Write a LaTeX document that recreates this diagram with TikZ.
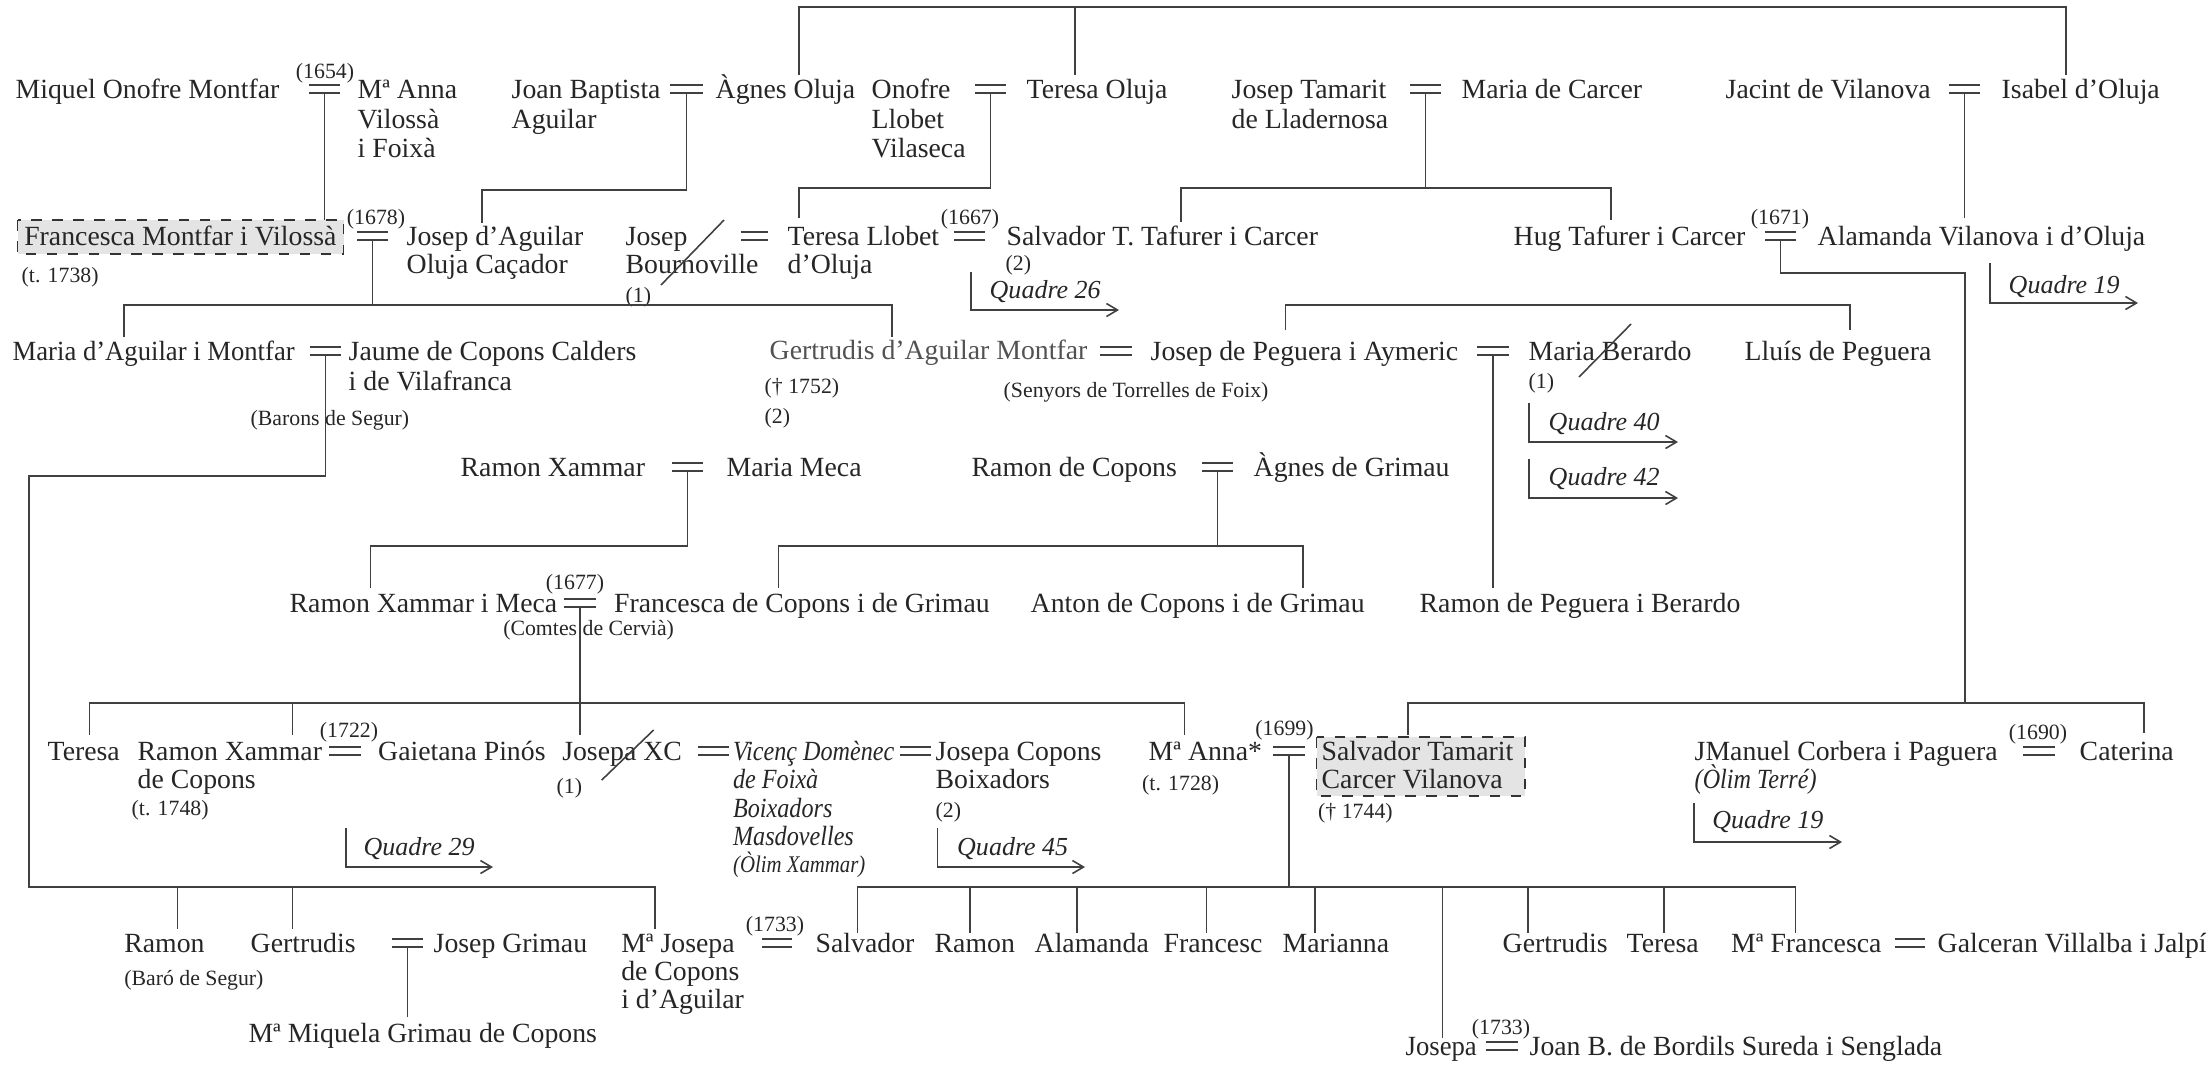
\documentclass[tikz,border=0pt]{standalone}
\usepackage{fontspec}
\usepackage{graphicx}
\setmainfont{Liberation Serif}
\usetikzlibrary{arrows.meta}
\definecolor{txt}{HTML}{262626}
\definecolor{lnc}{HTML}{404040}
\definecolor{boxfill}{HTML}{E4E4E4}
\newcommand\cond[1]{\scalebox{0.87}[1]{#1}}
\newcommand\slim[1]{\scalebox{0.96}[1]{#1}}
\tikzset{
  nm/.style={font=\fontsize{7.9}{8.3}\selectfont, anchor=base west, inner sep=0pt, text=txt},
  nmi/.style={nm, font=\fontsize{7.9}{8.3}\selectfont\itshape},
  sm/.style={font=\fontsize{6.2}{7}\selectfont, anchor=base west, inner sep=0pt, text=txt},
  yr/.style={font=\fontsize{6.2}{7}\selectfont, anchor=base, inner sep=0pt, text=txt},
  qd/.style={font=\fontsize{7.4}{8}\selectfont\itshape, anchor=base west, inner sep=0pt, text=txt},
  ln/.style={draw=lnc, line width=0.45pt},
  arr/.style={ln, -{Straight Barb[length=1.1mm,width=1.3mm]}},
  hbox/.style={draw=black!80, dashed, fill=boxfill, line width=0.45pt},
}
\newcommand\mar[4]{%
  \draw[ln] (#2,#4-13) -- (#3,#4-13) (#2,#4-5) -- (#3,#4-5);
  \coordinate (#1) at ({(#2+#3)/2},#4-5);}
\begin{document}
\begin{tikzpicture}[x=0.1mm,y=-0.1mm]
\useasboundingbox (0,0) rectangle (2210,1066);
% ---------- top siblings line
\draw[ln] (799,75) |- (2066,7) -- (2066,75);
\draw[ln] (1075,7) -- (1075,75);
% ---------- row 1
\node[nm] (miq) at (15,98) {Miquel Onofre Montfar};
\mar{m1}{309}{340}{98}
\node[yr] (y1654) at (325,78) {(1654)};
\node[nm] (anna1) at (357,98) {Mª Anna};
\node[nm] (anna2) at (357,128) {Vilossà};
\node[nm] (anna3) at (357,157) {i Foixà};
\node[nm] (joan1) at (511,98) {Joan Baptista};
\node[nm] (joan2) at (511,128) {Aguilar};
\mar{m2}{670}{703}{98}
\node[nm] (agnes) at (715,98) {Àgnes Oluja};
\node[nm] (onof1) at (871,98) {Onofre};
\node[nm] (onof2) at (871,128) {Llobet};
\node[nm] (onof3) at (871,157) {Vilaseca};
\mar{m3}{975}{1006}{98}
\node[nm] (terO) at (1026,98) {Teresa Oluja};
\node[nm] (jt1) at (1231,98) {Josep Tamarit};
\node[nm] (jt2) at (1231,128) {de Lladernosa};
\mar{m4}{1410}{1441}{98}
\node[nm] (mcar) at (1461,98) {Maria de Carcer};
\node[nm] (jac) at (1725,98) {Jacint de Vilanova};
\mar{m5}{1949}{1980}{98}
\node[nm] (isa) at (2001,98) {Isabel d’Oluja};
% connectors row1 -> row2
\draw[ln] (m1) -- ++(0,127);
\draw[ln] (m2) |- (482,190) -- (482,223);
\draw[ln] (m3) |- (799,188) -- (799,218);
\draw[ln] (m4) -- ++(0,95);
\draw[ln] (1181,222) |- (1611,188) -- (1611,220);
\draw[ln] (m5) -- ++(0,125);
% ---------- row 2
\draw[hbox] (17.5,220) rectangle (343.5,254);
\node[nm] (fmv) at (23.6,245) {Francesca Montfar i Vilossà};
\node[sm] (t1738) at (21,282) {(t. 1738)};
\node[yr] (y1678) at (376,224) {(1678)};
\mar{m6}{357}{388}{245}
\node[nm] (jda1) at (406,245) {Josep d’Aguilar};
\node[nm] (jda2) at (406,273) {Oluja Caçador};
\node[nm] (jb1) at (625,245) {Josep};
\node[nm] (jb2) at (625,273) {Bournoville};
\node[sm] (jb3) at (625,302) {(1)};
\draw[ln] (661,285) -- (724,220);
\mar{m7}{741}{768}{245}
\node[nm] (tl1) at (787,245) {Teresa Llobet};
\node[nm] (tl2) at (787,273) {d’Oluja};
\node[yr] (y1667) at (970,224) {(1667)};
\mar{m8}{954}{985}{245}
\node[nm] (stt) at (1006,245) {Salvador T. Tafurer i Carcer};
\node[sm] (stt2) at (1005,270) {(2)};
\draw[arr] (971,272) |- (1119,310);
\node[qd] (q26) at (989,298) {Quadre 26};
\node[nm] (hug) at (1513,245) {Hug Tafurer i Carcer};
\node[yr] (y1671) at (1780,224) {(1671)};
\mar{m9}{1765}{1796}{245}
\node[nm] (alam) at (1817,245) {Alamanda Vilanova i d’Oluja};
\draw[arr] (1990,263) |- (2138,303);
\node[qd] (q19a) at (2008,293) {Quadre 19};
% connectors row2
\draw[ln] (m6) -- ++(0,65);
\draw[ln] (124,337) |- (892,305) -- (892,337);
\draw[ln] (1285.5,330) |- (1850,305) -- (1850,330);
\draw[ln] (m9) |- (1965,273) -- (1965,703);
\draw[ln] (1408,735) |- (2144,703) -- (2144,733);
% ---------- row 3
\node[nm] (mda) at (12,360) {\slim{Maria d’Aguilar i Montfar}};
\mar{m10}{310}{341}{360}
\node[nm] (jcc1) at (348,360) {Jaume de Copons Calders};
\node[nm] (jcc2) at (348,390) {i de Vilafranca};
\node[sm] (bs) at (250,425) {(Barons de Segur)};
\node[nm, text=black!68] (gam) at (769,359) {Gertrudis d’Aguilar Montfar};
\node[sm] (d1752) at (764,393) {(† 1752)};
\node[sm] (g2) at (764,423) {(2)};
\mar{m11}{1100}{1132}{360}
\node[nm] (jpa) at (1150,360) {Josep de Peguera i Aymeric};
\node[sm] (stf) at (1003,397) {(Senyors de Torrelles de Foix)};
\mar{m12}{1477}{1509}{360}
\node[nm] (mb) at (1528,360) {Maria Berardo};
\node[sm] (mb1) at (1528,388) {(1)};
\draw[ln] (1579,377) -- (1631,324);
\node[nm] (llp) at (1744,360) {Lluís de Peguera};
\draw[arr] (1529,403) |- (1678,442);
\node[qd] (q40) at (1548,430) {Quadre 40};
\draw[arr] (1529,459) |- (1678,498);
\node[qd] (q42) at (1548,485) {Quadre 42};
% connectors row3
\draw[ln] (m10) |- (29,476) |- (655,887) -- (655,929);
\draw[ln] (177.4,887) -- (177.4,929);
\draw[ln] (292.6,887) -- (292.6,929);
\draw[ln] (m12) -- ++(0,233);
% ---------- row 4
\node[nm] (rx) at (460,476) {Ramon Xammar};
\mar{m13}{672}{703}{476}
\node[nm] (mm) at (726,476) {Maria Meca};
\node[nm] (rc) at (971,476) {Ramon de Copons};
\mar{m14}{1202}{1233}{476}
\node[nm] (ag) at (1253,476) {Àgnes de Grimau};
\draw[ln] (m13) |- (370.5,546) -- (370.5,588);
\draw[ln] (m14) -- ++(0,75);
\draw[ln] (778.6,588) |- (1303,546) -- (1303,588);
% ---------- row 5
\node[nm] (rxm) at (289,612) {Ramon Xammar i Meca};
\node[yr] (y1677) at (575,589) {(1677)};
\mar{m15}{564}{596}{612}
\node[nm] (fcg) at (613.5,612) {Francesca de Copons i de Grimau};
\node[sm] (cc) at (502.6,635) {(Comtes de Cervià)};
\node[nm] (acg) at (1030,612) {Anton de Copons i de Grimau};
\node[nm] (rpb) at (1419,612) {Ramon de Peguera i Berardo};
\draw[ln] (m15) -- ++(0,128);
\draw[ln] (89.7,735) |- (1184.5,703) -- (1184.5,735);
\draw[ln] (292.6,703) -- (292.6,735);
% ---------- row 6
\node[nm] (ter) at (47,760) {Teresa};
\node[nm] (rxc1) at (137,760) {Ramon Xammar};
\node[nm] (rxc2) at (137,788) {de Copons};
\node[sm] (t1748) at (131,815) {(t. 1748)};
\node[yr] (y1722) at (349,737) {(1722)};
\mar{m16}{329}{361}{760}
\node[nm] (gp) at (377.5,760) {Gaietana Pinós};
\node[nm] (jxc) at (561.6,760) {Josepa XC};
\node[sm] (jxc1) at (556,793) {(1)};
\draw[ln] (601.7,780) -- (653.6,730);
\mar{m17}{697.5}{729}{760}
\node[nmi] (vd1) at (732.4,760) {\cond{Vicenç Domènec}};
\node[nmi] (vd2) at (732.4,788) {\cond{de Foixà}};
\node[nmi] (vd3) at (732.4,817) {\cond{Boixadors}};
\node[nmi] (vd4) at (732.4,845) {\cond{Masdovelles}};
\node[sm, font=\fontsize{6.8}{7}\selectfont\itshape] (vd5) at (732.4,872) {\cond{(Òlim Xammar)}};
\mar{m18}{900}{930.6}{760}
\node[nm] (jcb1) at (935,760) {Josepa Copons};
\node[nm] (jcb2) at (935,788) {Boixadors};
\node[sm] (jcb3) at (935,817) {(2)};
\draw[arr] (937.6,828) |- (1085,867);
\node[qd] (q45) at (956.5,855) {Quadre 45};
\draw[arr] (346,828) |- (493,867);
\node[qd] (q29) at (363,855) {Quadre 29};
\node[nm] (man) at (1148,760) {Mª Anna*};
\node[sm] (t1728) at (1141.5,790) {(t. 1728)};
\node[yr] (y1699) at (1284.5,735) {(1699)};
\mar{m19}{1272.7}{1305}{760}
\draw[hbox] (1316.6,737) rectangle (1525,796);
\node[nm] (stc1) at (1321,760) {Salvador Tamarit};
\node[nm] (stc2) at (1321,788) {Carcer Vilanova};
\node[sm] (d1744) at (1317.5,818) {(† 1744)};
\node[nm] (jmc) at (1694,760) {JManuel Corbera i Paguera};
\node[nmi] (ot) at (1694,788) {\cond{(Òlim Terré)}};
\node[yr] (y1690) at (2038,739) {(1690)};
\mar{m20}{2023}{2055}{760}
\node[nm] (cat) at (2079,760) {Caterina};
\draw[arr] (1694,803) |- (1842,842);
\node[qd] (q19b) at (1711.6,828) {Quadre 19};
% connectors row6
\draw[ln] (m19) -- ++(0,132);
\draw[ln] (857.4,933) |- (1795.6,887) -- (1795.6,933);
\foreach \xx in {969.7,1076.9,1206.6,1315,1528,1664}{\draw[ln] (\xx,887) -- (\xx,933);}
\draw[ln] (1442.6,887) -- (1442.6,1038);
% ---------- row 7
\node[nm] (ram) at (123.6,952) {Ramon};
\node[sm] (bsg) at (123.6,985) {(Baró de Segur)};
\node[nm] (gert) at (250,952) {Gertrudis};
\mar{m21}{391.7}{423}{952}
\node[nm] (jg) at (433,952) {Josep Grimau};
\node[nm] (mj1) at (620.6,952) {Mª Josepa};
\node[nm] (mj2) at (620.6,980) {de Copons};
\node[nm] (mj3) at (620.6,1008) {i d’Aguilar};
\node[yr] (y1733a) at (775,931) {(1733)};
\mar{m22}{762}{792}{952}
\node[nm] (salv) at (815,952) {Salvador};
\node[nm] (ram2) at (934,952) {Ramon};
\node[nm] (alam2) at (1034,952) {Alamanda};
\node[nm] (fran) at (1163,952) {Francesc};
\node[nm] (mari) at (1282,952) {Marianna};
\node[nm] (gert2) at (1502,952) {Gertrudis};
\node[nm] (ter2) at (1626,952) {Teresa};
\node[nm] (mf) at (1730.5,952) {Mª Francesca};
\mar{m23}{1894.7}{1925}{952}
\node[nm] (gvj) at (1937,952) {Galceran Villalba i Jalpí};
\node[nm] (mmg) at (247.8,1042) {Mª Miquela Grimau de Copons};
\draw[ln] (m21) -- ++(0,70);
% ---------- row 8
\node[nm] (jos) at (1405,1055) {\slim{Josepa}};
\node[yr] (y1733b) at (1501,1034) {(1733)};
\mar{m24}{1486}{1518}{1055}
\node[nm] (jbb) at (1529,1055) {Joan B. de Bordils Sureda i Senglada};
\end{tikzpicture}
\end{document}
